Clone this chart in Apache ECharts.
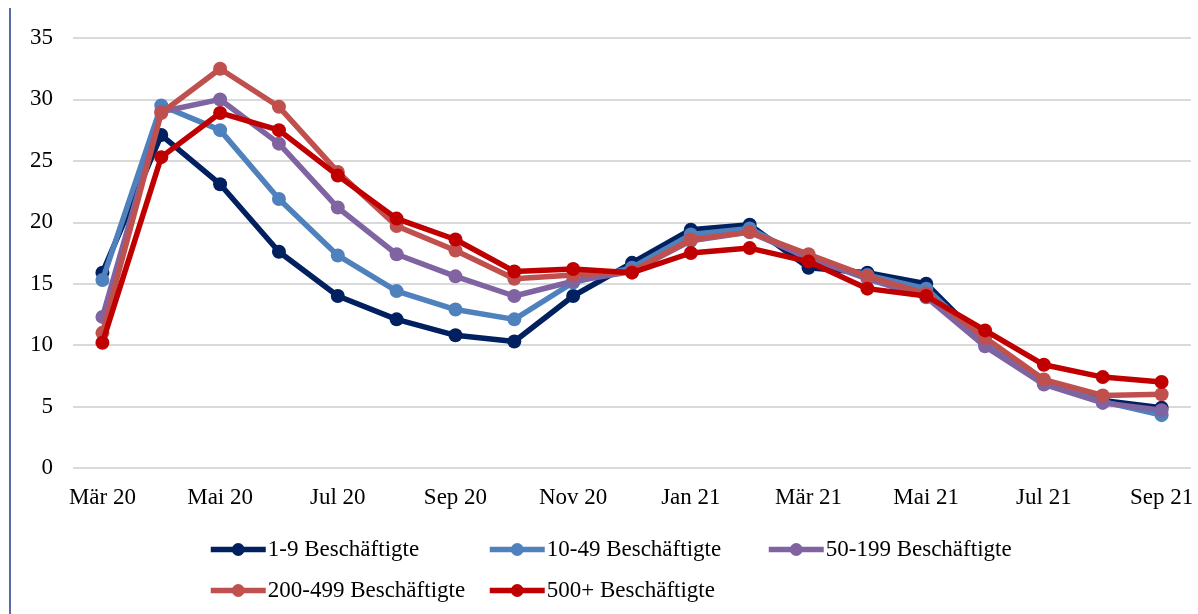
<!DOCTYPE html>
<html><head><meta charset="utf-8">
<script src="https://cdn.jsdelivr.net/npm/echarts@6/dist/echarts.min.js"></script>
<style>html,body{margin:0;padding:0;background:#fff}#c{width:1198px;height:614px}</style>
</head><body><div id="c"></div>
<script>
const months = ['Mär 20','Apr 20','Mai 20','Jun 20','Jul 20','Aug 20','Sep 20','Okt 20','Nov 20','Dez 20','Jan 21','Feb 21','Mär 21','Apr 21','Mai 21','Jun 21','Jul 21','Aug 21','Sep 21'];
const names = ['1-9 Beschäftigte','10-49 Beschäftigte','50-199 Beschäftigte','200-499 Beschäftigte','500+ Beschäftigte'];
const s1_9     = [15.9,27.1,23.1,17.6,14.0,12.1,10.8,10.3,14.0,16.7,19.4,19.8,16.3,15.9,15.0,10.2,6.9,5.5,4.9];
const s10_49   = [15.3,29.5,27.5,21.9,17.3,14.4,12.9,12.1,15.1,16.3,19.0,19.5,17.0,15.7,14.6,10.2,6.9,5.4,4.3];
const s50_199  = [12.3,29.0,30.0,26.4,21.2,17.4,15.6,14.0,15.2,16.0,18.5,19.2,17.1,15.4,13.9,9.9,6.8,5.3,4.7];
const s200_499 = [11.0,28.9,32.5,29.4,24.1,19.7,17.7,15.4,15.7,16.0,18.6,19.2,17.4,15.6,14.2,10.6,7.2,5.9,6.0];
const s500     = [10.2,25.3,28.9,27.5,23.8,20.3,18.6,16.0,16.2,15.9,17.5,17.9,16.8,14.6,14.0,11.2,8.4,7.4,7.0];
const yTicks = [0,5,10,15,20,25,30,35];
const colors = ['#002060','#4F81BD','#8064A2','#C0504D','#C00000'];
const allData = [s1_9,s10_49,s50_199,s200_499,s500];

const font = 'Liberation Serif, Times New Roman, serif';
const chart = echarts.init(document.getElementById('c'));
const legendBase = {orient:'vertical', top:538, height:110, padding:0, itemWidth:55, itemHeight:16, itemGap:18,
  lineStyle:{width:5.5}, itemStyle:{borderWidth:0},
  textStyle:{fontFamily:font, fontSize:23, color:'#000', padding:[0,0,0,-3]}};
chart.setOption({
  animation:false,
  color: colors,
  grid:{left:73, right:7, top:38, bottom:146},
  xAxis:{type:'category', data:months, boundaryGap:true,
    axisLine:{show:false}, axisTick:{show:false},
    axisLabel:{interval:1, fontFamily:font, fontSize:23, color:'#000', margin:18}},
  yAxis:{type:'value', min:yTicks[0], max:yTicks[yTicks.length-1], interval:5,
    axisLine:{show:false}, axisTick:{show:false},
    axisLabel:{fontFamily:font, fontSize:23, color:'#000', margin:20},
    splitLine:{lineStyle:{color:'#d9d9d9', width:2}}},
  legend:[
    Object.assign({left:208, data:[names[0],names[3]]}, legendBase),
    Object.assign({left:487, data:[names[1],names[4]]}, legendBase),
    Object.assign({left:766, data:[names[2]]}, legendBase)
  ],
  graphic:[{type:'line', shape:{x1:10,y1:8,x2:10,y2:614}, style:{stroke:'#1f3a8a', lineWidth:1.5}}],
  series: allData.map((d,i)=>({
    name:names[i], type:'line', data:d, symbol:'circle', symbolSize:14,
    lineStyle:{width:5.5, color:colors[i]}, itemStyle:{color:colors[i]}, z:2+i
  }))
});
</script></body></html>
